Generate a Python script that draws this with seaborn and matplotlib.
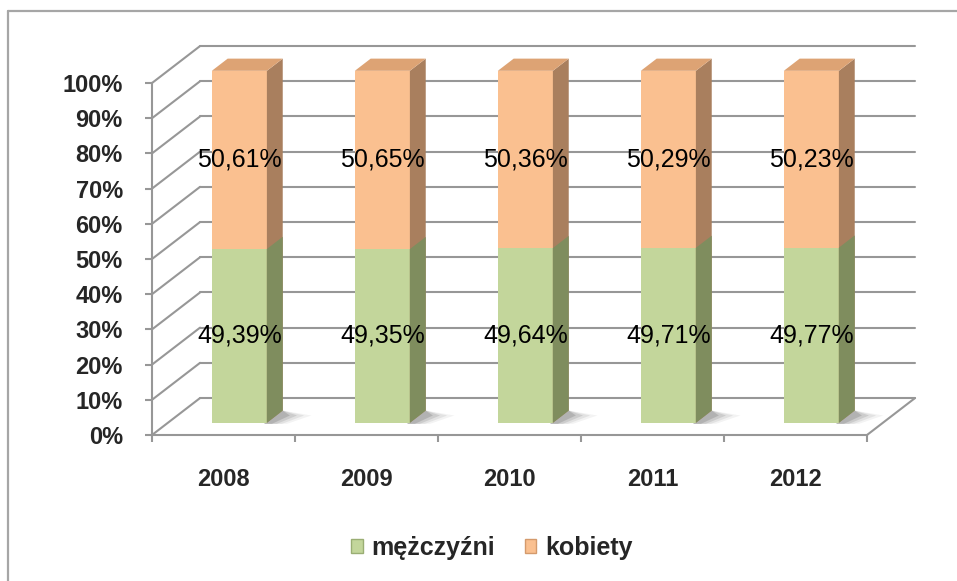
import matplotlib
matplotlib.use("Agg")
import matplotlib.pyplot as plt
import seaborn as sns
from matplotlib.patches import Polygon, Patch
from matplotlib.lines import Line2D

# dane: udział płci w populacji (%)
years = ["2008", "2009", "2010", "2011", "2012"]
men = [49.39, 49.35, 49.64, 49.71, 49.77]
women = [50.61, 50.65, 50.36, 50.29, 50.23]
series_names = ["mężczyźni", "kobiety"]
y_ticks = [0, 10, 20, 30, 40, 50, 60, 70, 80, 90, 100]

total = [m + w for m, w in zip(men, women)]

green_front, green_side = "#C3D69B", "#7F8D5E"
orange_front, orange_side, orange_top = "#FAC090", "#A97F5E", "#DDA374"
grid_col = "#979797"

sns.set_style("white")
plt.rcParams["font.family"] = ["Liberation Sans", "DejaVu Sans"]

fig = plt.figure(figsize=(9.57, 5.81), dpi=100)
ax = fig.add_axes([0.15883, 0.25129, 0.81296, 0.69707])

# głębokość "3D" w jednostkach danych
depth_x, depth_y = 0.336, 10.5
off_x, off_y = 0.33 * depth_x, 0.33 * depth_y      # przesunięcie słupka w głąb
bar_dx, bar_dy = 0.33 * depth_x, 0.33 * depth_y    # grubość słupka
bw = 0.385
n = len(years)

# ściany: siatka na lewej i tylnej ścianie, podłoga
for v in y_ticks:
    ax.plot([-0.5, -0.5 + depth_x], [v, v + depth_y], color=grid_col, lw=1.5, zorder=0.5, clip_on=False)
    ax.plot([-0.5 + depth_x, n - 0.5 + depth_x], [v + depth_y, v + depth_y],
            color=grid_col, lw=1.5, zorder=0.5, clip_on=False)
ax.plot([n - 0.5, n - 0.5 + depth_x], [0, depth_y], color=grid_col, lw=1.5, zorder=0.5, clip_on=False)

# słupki: najpierw całość (kobiety na wierzchu), potem mężczyźni
sns.barplot(x=years, y=total, color=orange_front, saturation=1, width=bw,
            errorbar=None, edgecolor="none", ax=ax)
sns.barplot(x=years, y=men, color=green_front, saturation=1, width=bw,
            errorbar=None, edgecolor="none", ax=ax)

orange_bars = ax.patches[:n]
green_bars = ax.patches[n:2 * n]

for ob, gb, m, w in zip(orange_bars, green_bars, men, women):
    for p in (ob, gb):
        p.set_x(p.get_x() + off_x)
        p.set_y(p.get_y() + off_y)
        p.set_zorder(3)
    x0 = ob.get_x()
    x1 = x0 + ob.get_width()
    y0 = ob.get_y()
    ym = y0 + gb.get_height()
    yt = y0 + ob.get_height()

    # cień na podłodze (kilka warstw dla rozmycia)
    for k, a in enumerate([0.08, 0.12, 0.18, 0.26]):
        s = 0.2 * (4 - k) / 4
        ax.add_patch(Polygon([(x1 - 0.02, y0 - 0.3), (x1 + bar_dx, y0 + bar_dy),
                              (x1 + bar_dx + s, y0 + bar_dy * 0.6), (x1 + s * 0.7, y0 - 0.3)],
                             closed=True, color="#6a6a6a", alpha=a, lw=0, zorder=1))
    # boki
    ax.add_patch(Polygon([(x1, y0), (x1 + bar_dx, y0 + bar_dy), (x1 + bar_dx, yt + bar_dy), (x1, yt)],
                         closed=True, color=orange_side, lw=0, zorder=3))
    ax.add_patch(Polygon([(x1, y0), (x1 + bar_dx, y0 + bar_dy), (x1 + bar_dx, ym + bar_dy), (x1, ym)],
                         closed=True, color=green_side, lw=0, zorder=3.1))
    # góra
    ax.add_patch(Polygon([(x0, yt), (x1, yt), (x1 + bar_dx, yt + bar_dy), (x0 + bar_dx, yt + bar_dy)],
                         closed=True, color=orange_top, lw=0, zorder=3.1))

    cx = x0 + ob.get_width() / 2
    ax.text(cx, (y0 + ym) / 2, f"{m:.2f}%".replace(".", ","), ha="center", va="center",
            fontsize=18, color="black", zorder=5)
    ax.text(cx, (ym + yt) / 2, f"{w:.2f}%".replace(".", ","), ha="center", va="center",
            fontsize=18, color="black", zorder=5)

ax.set_xlim(-0.5, 4.9406)
ax.set_ylim(0, 115.06)
ax.set_xlabel("")
ax.set_ylabel("")

for side in ["top", "right"]:
    ax.spines[side].set_visible(False)
for side in ["left", "bottom"]:
    ax.spines[side].set_color(grid_col)
    ax.spines[side].set_linewidth(1.5)
ax.spines["left"].set_bounds(0, 100)
ax.spines["bottom"].set_bounds(-0.5, n - 0.5)

ax.set_yticks(y_ticks, labels=[f"{v}%" for v in y_ticks])
ax.tick_params(axis="y", left=True, direction="out", length=5, width=1.5, color=grid_col,
               pad=16, labelsize=17)
for t in ax.get_yticklabels():
    t.set_fontweight("bold")

ax.set_xticks([i - 0.5 for i in range(n + 1)], labels=[""] * (n + 1))
ax.set_xticks(range(n), labels=years, minor=True)
ax.tick_params(axis="x", which="major", bottom=True, direction="out", length=5, width=1.5, color=grid_col)
ax.tick_params(axis="x", which="minor", bottom=True, length=0, pad=24, labelsize=17)
for t in ax.get_xticklabels(minor=True):
    t.set_fontweight("bold")

handles = [Patch(facecolor=green_front, edgecolor="#9AAE74", label=series_names[0]),
           Patch(facecolor=orange_front, edgecolor="#D49A6C", label=series_names[1])]
fig.legend(handles=handles, loc="center", bbox_to_anchor=(492 / 957, 1 - 548 / 581), ncol=2,
           frameon=False, prop={"size": 18, "weight": "bold"}, handlelength=0.45, handleheight=0.45,
           handletextpad=0.35, columnspacing=1.2)

# ramka wykresu
fig.add_artist(Line2D([8 / 957, 1], [1 - 11 / 581, 1 - 11 / 581], color="#A6A6A6", lw=1.6))
fig.add_artist(Line2D([8 / 957, 8 / 957], [0, 1 - 11 / 581], color="#A6A6A6", lw=1.6))

fig.savefig("out.png", dpi=100)
